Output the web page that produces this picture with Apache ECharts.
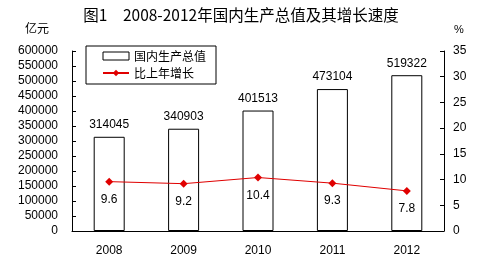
<!DOCTYPE html>
<html><head><meta charset="utf-8">
<script src="https://cdn.jsdelivr.net/npm/echarts@6/dist/echarts.min.js"></script>
<style>html,body{margin:0;padding:0;background:#fff}#c{width:482px;height:260px}</style>
</head><body><div id="c"></div>
<script>
const categories = ['2008', '2009', '2010', '2011', '2012'];
const gdpValues = [314045, 340903, 401513, 473104, 519322];
const growthValues = [9.6, 9.2, 10.4, 9.3, 7.8];
const seriesNames = ['国内生产总值', '比上年增长'];
const titleText = '图1　2008-2012年国内生产总值及其增长速度';
const leftUnit = '亿元';
const rightUnit = '%';

const font = '"Liberation Sans", Arial, "Noto Sans CJK SC", sans-serif';
const cjk = '"Noto Sans CJK SC", sans-serif';
const chart = echarts.init(document.getElementById('c'));
chart.setOption({
  animation: false,
  backgroundColor: '#fff',
  title: { text: titleText, left: 'center', top: 2, textStyle: { fontFamily: cjk, fontSize: 15.5, fontWeight: 'normal', color: '#000' } },
  graphic: [
    { type: 'text', left: 25, top: 22, style: { text: leftUnit, font: '12px ' + cjk, fill: '#000' } },
    { type: 'text', left: 454, top: 24, style: { text: rightUnit, font: '11px ' + font, fill: '#000' } }
  ],
  legend: {
    orient: 'vertical', left: 86, top: 46, width: 138,
    padding: [4, 10, 5, 16], itemGap: 5,
    borderColor: '#000', borderWidth: 1,
    itemWidth: 26, itemHeight: 8,
    textStyle: { fontFamily: cjk, fontSize: 12, color: '#000' },
    data: [
      { name: seriesNames[0], icon: 'rect', itemStyle: { color: '#fff', borderColor: '#000', borderWidth: 1 } },
      { name: seriesNames[1] }
    ]
  },
  grid: { left: 72, right: 38, top: 51, bottom: 29 },
  xAxis: {
    type: 'category', data: categories,
    axisLine: { lineStyle: { color: '#000' } },
    axisTick: { inside: true, length: 5, lineStyle: { color: '#000' } },
    axisLabel: { color: '#000', fontFamily: font, fontSize: 12, margin: 14 }
  },
  yAxis: [
    { type: 'value', min: 0, max: 600000, interval: 50000,
      axisLine: { show: true, lineStyle: { color: '#000' } },
      axisTick: { show: true, inside: true, length: 4, lineStyle: { color: '#000' } },
      axisLabel: { color: '#000', fontFamily: font, fontSize: 12, margin: 14, formatter: v => String(v) },
      splitLine: { show: false } },
    { type: 'value', min: 0, max: 35, interval: 5, position: 'right',
      axisLine: { show: true, lineStyle: { color: '#000' } },
      axisTick: { show: true, inside: true, length: 4, lineStyle: { color: '#000' } },
      axisLabel: { color: '#000', fontFamily: font, fontSize: 12, margin: 9 },
      splitLine: { show: false } }
  ],
  series: [
    { name: seriesNames[0], type: 'bar', data: gdpValues, barWidth: 31, yAxisIndex: 0,
      itemStyle: { color: '#fff', borderColor: '#000', borderWidth: 1 },
      label: { show: true, position: 'top', distance: 6, color: '#000', fontFamily: font, fontSize: 12 } },
    { name: seriesNames[1], type: 'line', data: growthValues, yAxisIndex: 1,
      symbol: 'diamond', symbolSize: 8,
      lineStyle: { color: '#e00000', width: 1 },
      itemStyle: { color: '#e00000' },
      label: { show: true, position: 'bottom', distance: 8, color: '#000', fontFamily: font, fontSize: 12 } }
  ]
});
</script></body></html>
